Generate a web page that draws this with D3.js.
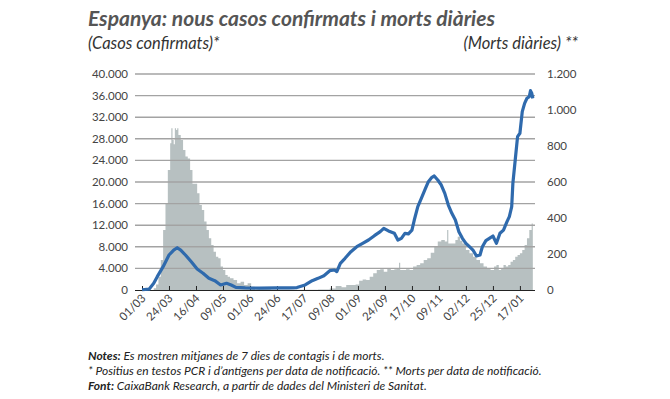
<!DOCTYPE html>
<html>
<head>
<meta charset="utf-8">
<script src="https://cdn.jsdelivr.net/npm/d3@7"></script>
<style>
  body { margin: 0; background: #fff; }
  text { font-family: Lato, "Open Sans", sans-serif; }
</style>
</head>
<body>
<div id="chart"></div>
<script>
// casos confirmats (mitjana 7 dies), eix esquerre
const caseDates = ["2020-03-01","2020-03-07","2020-03-11","2020-03-14","2020-03-19","2020-03-24","2020-03-28","2020-03-31",
  "2020-04-03","2020-04-07","2020-04-12","2020-04-17","2020-04-22","2020-04-27","2020-05-02","2020-05-07","2020-05-12",
  "2020-05-16","2020-05-20","2020-05-28","2020-06-09","2020-06-24","2020-07-04","2020-07-11","2020-07-18","2020-07-24",
  "2020-07-29","2020-08-03","2020-08-08","2020-08-12","2020-08-14","2020-08-17","2020-08-21","2020-08-26","2020-08-31",
  "2020-09-05","2020-09-10","2020-09-15","2020-09-20","2020-09-23","2020-09-27","2020-10-02","2020-10-05","2020-10-08",
  "2020-10-11","2020-10-14","2020-10-17","2020-10-19","2020-10-22","2020-10-25","2020-10-28","2020-10-31","2020-11-03",
  "2020-11-05","2020-11-08","2020-11-11","2020-11-14","2020-11-17","2020-11-20","2020-11-23","2020-11-26","2020-11-29",
  "2020-12-02","2020-12-05","2020-12-08","2020-12-11","2020-12-14","2020-12-16","2020-12-19","2020-12-22","2020-12-25",
  "2020-12-28","2020-12-31","2021-01-03","2021-01-06","2021-01-08","2021-01-10","2021-01-11","2021-01-13","2021-01-15",
  "2021-01-17","2021-01-19","2021-01-21","2021-01-23","2021-01-25","2021-01-26","2021-01-27","2021-01-28"];
const caseValues = [50,150,1240,2470,4320,6480,7400,7830,
  7400,6480,5240,3890,3090,2160,1730,930,1240,
  930,490,400,350,380,400,450,930,1730,
  2160,2650,3580,3700,3400,4940,5870,7100,8020,
  8640,9260,10060,10800,11420,10930,10500,9260,9570,
  10500,10400,11100,12960,15430,16980,18520,20060,20870,
  21110,20370,19440,17900,15740,14200,12960,10800,9570,
  8640,8020,7400,6300,6480,8020,9140,9570,10000,
  8640,10500,11100,12650,13580,15430,19750,24070,28400,
  29020,33020,34570,35500,35800,36910,36500,35500];

// morts diàries (mitjana 7 dies), eix dret
const deathDates = ["2020-03-01","2020-03-09","2020-03-11","2020-03-13","2020-03-15","2020-03-17","2020-03-19","2020-03-21",
  "2020-03-23","2020-03-25","2020-03-26","2020-03-27","2020-03-28","2020-03-29","2020-03-30","2020-03-31","2020-04-01",
  "2020-04-03","2020-04-05","2020-04-07","2020-04-09","2020-04-11","2020-04-13","2020-04-15","2020-04-17","2020-04-19",
  "2020-04-21","2020-04-23","2020-04-25","2020-04-27","2020-04-29","2020-05-01","2020-05-03","2020-05-05","2020-05-07",
  "2020-05-09","2020-05-11","2020-05-13","2020-05-15","2020-05-18","2020-05-21","2020-05-24","2020-05-27","2020-05-30",
  "2020-06-02","2020-06-05","2020-06-09","2020-06-19","2020-07-09","2020-07-29","2020-08-08","2020-08-13","2020-08-18",
  "2020-08-22","2020-08-26","2020-08-30","2020-09-02","2020-09-05","2020-09-08","2020-09-11","2020-09-14","2020-09-17",
  "2020-09-20","2020-09-23","2020-09-26","2020-09-29","2020-10-02","2020-10-04","2020-10-06","2020-10-07","2020-10-09",
  "2020-10-12","2020-10-15","2020-10-18","2020-10-21","2020-10-24","2020-10-27","2020-10-30","2020-11-02","2020-11-05",
  "2020-11-08","2020-11-11","2020-11-14","2020-11-16","2020-11-17","2020-11-20","2020-11-23","2020-11-25","2020-11-27",
  "2020-11-29","2020-12-02","2020-12-05","2020-12-08","2020-12-11","2020-12-14","2020-12-17","2020-12-20","2020-12-23",
  "2020-12-26","2020-12-28","2020-12-30","2021-01-01","2021-01-03","2021-01-05","2021-01-07","2021-01-09","2021-01-11",
  "2021-01-13","2021-01-15","2021-01-17","2021-01-19","2021-01-21","2021-01-23","2021-01-25","2021-01-27","2021-01-28"];
const deathValues = [0,0,10,30,74,167,333,481,
  667,815,898,833,810,898,889,898,861,
  833,778,741,730,667,590,590,537,472,
  444,380,333,287,250,213,185,176,130,
  111,83,74,65,56,37,46,28,37,
  18,10,5,3,2,3,9,22,15,
  28,28,31,52,59,56,74,93,111,
  115,102,120,111,115,120,152,111,111,
  115,111,130,139,148,167,176,207,241,
  269,278,269,333,259,259,278,296,274,
  259,222,204,185,167,148,130,120,111,
  130,139,111,120,139,130,139,157,167,
  185,194,204,222,250,287,333,370,389];

const tickDates = ["2020-03-01","2020-03-24","2020-04-16","2020-05-09","2020-06-01","2020-06-24","2020-07-17",
  "2020-08-09","2020-09-01","2020-09-24","2020-10-17","2020-11-09","2020-12-02","2020-12-25","2021-01-17"];
const leftTicks = [0,4000,8000,12000,16000,20000,24000,28000,32000,36000,40000];
const rightTicks = [0,200,400,600,800,1000,1200];

const width = 670, height = 399;
const parse = d3.timeParse("%Y-%m-%d");
const fmtThousands = d3.formatLocale({decimal: ",", thousands: ".", grouping: [3], currency: ["", "€"]}).format(",");

const svg = d3.select("#chart").append("svg")
  .attr("width", width)
  .attr("height", height);

const x = d3.scaleTime()
  .domain([parse("2020-03-01"), parse("2021-01-29")])
  .range([142, 534]);
const yLeft = d3.scaleLinear().domain([0, 40000]).range([290, 74]);
const yRight = d3.scaleLinear().domain([0, 1200]).range([290, 74]);

const cases = caseDates.map((d, i) => ({date: parse(d), value: caseValues[i]}));
const deaths = deathDates.map((d, i) => ({date: parse(d), value: deathValues[i]}));

// morts: àrea grisa
svg.append("path")
  .datum(deaths)
  .attr("fill", "#b7c0c1")
  .attr("d", d3.area()
    .curve(d3.curveStepAfter)
    .x(d => x(d.date))
    .y0(yRight(0))
    .y1(d => yRight(d.value)));

// gridlines
svg.append("g")
  .selectAll("line")
  .data(leftTicks.slice(1))
  .join("line")
  .attr("x1", 135).attr("x2", 535)
  .attr("y1", d => yLeft(d)).attr("y2", d => yLeft(d))
  .attr("stroke", "#a3a3a3")
  .attr("stroke-width", 1.4);

// left labels
svg.append("g")
  .selectAll("text")
  .data(leftTicks)
  .join("text")
  .attr("x", 128)
  .attr("y", d => yLeft(d) + 4)
  .attr("text-anchor", "end")
  .attr("font-size", 11.5)
  .attr("fill", "#444")
  .text(d => fmtThousands(d));

// right labels
svg.append("g")
  .selectAll("text")
  .data(rightTicks)
  .join("text")
  .attr("x", 547)
  .attr("y", d => yRight(d) + 4)
  .attr("font-size", 11.5)
  .attr("fill", "#444")
  .text(d => fmtThousands(d));

// x axis
const xAxis = svg.append("g")
  .attr("transform", `translate(0,${yLeft(0)})`)
  .call(d3.axisBottom(x)
    .tickValues(tickDates.map(parse))
    .tickSize(-4)
    .tickSizeOuter(0)
    .tickFormat(d3.timeFormat("%d/%m")));
xAxis.select(".domain").attr("stroke", "#222").attr("d", "M135,0.5H535");
xAxis.selectAll(".tick line").attr("stroke", "#222");
xAxis.selectAll(".tick text")
  .attr("font-family", "Lato, 'Open Sans', sans-serif")
  .attr("font-size", 11.5)
  .attr("fill", "#444")
  .attr("text-anchor", "end")
  .attr("dy", null)
  .attr("y", 0)
  .attr("transform", "translate(4,9) rotate(-45)");

// casos: línia blava
svg.append("path")
  .datum(cases)
  .attr("fill", "none")
  .attr("stroke", "#2f6aad")
  .attr("stroke-width", 3.2)
  .attr("stroke-linejoin", "round")
  .attr("d", d3.line()
    .x(d => x(d.date))
    .y(d => yLeft(d.value)));

// titles
svg.append("text")
  .attr("x", 88).attr("y", 26)
  .attr("font-size", 21)
  .attr("font-weight", "bold")
  .attr("font-style", "italic")
  .attr("fill", "#555")
  .text("Espanya: nous casos confirmats i morts diàries");

svg.append("text")
  .attr("x", 88).attr("y", 49)
  .attr("font-size", 16.5)
  .attr("font-style", "italic")
  .attr("fill", "#333")
  .text("(Casos confirmats)*");

svg.append("text")
  .attr("x", 578).attr("y", 49)
  .attr("text-anchor", "end")
  .attr("font-size", 16.5)
  .attr("font-style", "italic")
  .attr("fill", "#333")
  .text("(Morts diàries) **");

// notes
const notes = svg.append("g")
  .attr("font-size", 12)
  .attr("font-style", "italic")
  .attr("fill", "#222");

const n1 = notes.append("text").attr("x", 88).attr("y", 360);
n1.append("tspan").attr("font-weight", "bold").text("Notes:");
n1.append("tspan").text(" Es mostren mitjanes de 7 dies de contagis i de morts.");

notes.append("text").attr("x", 88).attr("y", 375)
  .text("* Positius en testos PCR i d’antígens per data de notificació. ** Morts per data de notificació.");

const n3 = notes.append("text").attr("x", 88).attr("y", 390);
n3.append("tspan").attr("font-weight", "bold").text("Font:");
n3.append("tspan").text(" CaixaBank Research, a partir de dades del Ministeri de Sanitat.");
</script>
</body>
</html>
